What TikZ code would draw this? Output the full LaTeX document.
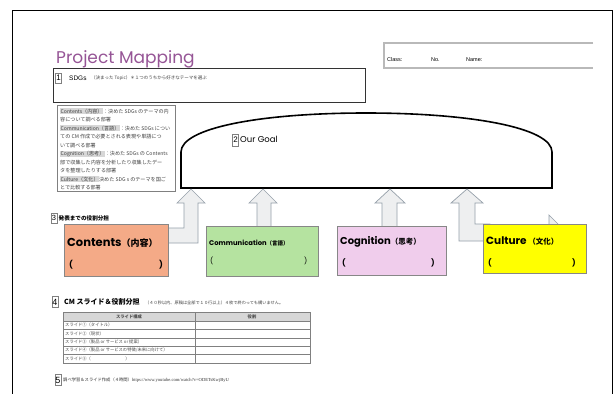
\documentclass[tikz,border=0pt]{standalone}
\usepackage{fontspec}
\setmainfont{Liberation Serif}
\newfontfamily\jp{Noto Sans CJK JP}
\newfontfamily\pop{Poppins}
\newfontfamily\lsans{Liberation Sans}
\definecolor{salmon}{RGB}{244,170,135}
\definecolor{lgreen}{RGB}{181,227,160}
\definecolor{lpink}{RGB}{240,205,236}
\definecolor{lyellow}{RGB}{255,255,0}
\definecolor{boxgray}{RGB}{135,135,135}
\definecolor{arrfill}{RGB}{238,239,240}
\definecolor{arrline}{RGB}{150,160,170}
\definecolor{titlecol}{RGB}{150,85,150}
\definecolor{hl}{RGB}{215,215,215}
\tikzset{
  catbox/.style={draw=boxgray, line width=0.8pt, anchor=north west, inner sep=0pt},
  arrowsty/.style={draw=arrline, fill=arrfill, line width=0.7pt, line join=miter},
  numbox/.style={draw=gray, line width=0.4pt, fill=white, inner xsep=0.6pt, inner ysep=0.8pt, minimum height=10pt, minimum width=5.5pt, font=\lsans\fontsize{8}{8}\selectfont},
  desc/.style={anchor=base west, inner sep=0pt, font=\jp\fontsize{5.1}{6}\selectfont, text=black!75},
  hlbox/.style={fill=hl, inner xsep=0.3pt, inner ysep=0.6pt},
  rowtxt/.style={anchor=west, inner sep=0pt, font=\jp\fontsize{4.3}{5}\selectfont, text=black!70},
}
\begin{document}
\begin{tikzpicture}[x=1pt,y=-1pt]
\useasboundingbox (0,0) rectangle (614,394);
\fill[white] (0,0) rectangle (614,394);
% page border
\draw[line width=0.9pt] (12,394) -- (12,10) -- (612,10) -- (612,394);
% class box
\draw[gray!55, line width=1.2pt] (593,43) -- (384,43) -- (384,68) -- (593,68);
\node[anchor=west, inner sep=0pt, font=\lsans\fontsize{5.5}{6}\selectfont] (cls) at (387,60) {Class:};
\node[anchor=west, inner sep=0pt, font=\lsans\fontsize{5.5}{6}\selectfont] (no) at (431,60) {No.};
\node[anchor=west, inner sep=0pt, font=\lsans\fontsize{5.5}{6}\selectfont] (nm) at (466,60) {Name:};
% title
\node[anchor=base west, inner sep=0pt, text=titlecol, font=\pop\fontsize{17}{20}\selectfont] (title) at (56,63) {Project Mapping};
% section 1
\draw[black!80, line width=1pt] (53,68) rectangle (365,102);
\node[numbox] (n1) at (58.5,78) {1};
\node[anchor=west, inner sep=0pt, font=\lsans\fontsize{6.5}{7}\selectfont] (sdgs) at (69,78) {SDGs};
\node[anchor=west, inner sep=0pt, font=\jp\fontsize{4.5}{5}\selectfont, text=black!75] (sdgsnote) at (91,78) {（決まった Topic）＊１つのうちから好きなテーマを選ぶ};
% description box
\draw[gray, line width=0.8pt] (57,105) rectangle (175,191);
\node[desc] (d1) at (60,113) {\tikz[baseline=(h.base)]\node[hlbox,inner sep=0.5pt](h){Contents（内容）};：決めた SDGs のテーマの内};
\node[desc] (d2) at (60,121.5) {容について調べる部署};
\node[desc] (d3) at (60,130) {\tikz[baseline=(h.base)]\node[hlbox,inner sep=0.5pt](h){Communication（言語）};：決めた SDGs につい};
\node[desc] (d4) at (60,138.5) {ての CM 作成で必要とされる表現や単語につ};
\node[desc] (d5) at (60,147) {いて調べる部署};
\node[desc] (d6) at (60,155.5) {\tikz[baseline=(h.base)]\node[hlbox,inner sep=0.5pt](h){Cognition（思考）};：決めた SDGs の Contents};
\node[desc] (d7) at (60,164) {部で収集した内容を分析したり収集したデー};
\node[desc] (d8) at (60,172.5) {タを整理したりする部署};
\node[desc] (d9) at (60,181) {\tikz[baseline=(h.base)]\node[hlbox,inner sep=0.5pt](h){Culture（文化）};決めた SDG s のテーマを国ご};
\node[desc] (d10) at (60,189.5) {とで比較する部署};
% goal shape
\draw[line width=1.6pt, fill=white] (181,188) -- (181,152) .. controls (181,128) and (260,113) .. (366,113) .. controls (472,113) and (552,128) .. (552,152) -- (552,188) -- cycle;
\node[numbox, minimum height=12pt] (n2) at (235.5,140) {2};
\node[anchor=west, inner sep=0pt, font=\pop\fontsize{8.5}{9}\selectfont] (goal) at (240,139) {Our Goal};
% arrows
\draw[arrowsty] (160,228) -- (184,228) -- (184,203) -- (177,203) -- (191,189) -- (205,203) -- (198,203) -- (198,243) -- (160,243) -- cycle;
\draw[arrowsty] (257,230) -- (257,203) -- (249,203) -- (263,189) -- (277,203) -- (271,203) -- (271,230) -- cycle;
\draw[arrowsty] (382,230) -- (382,203) -- (375,203) -- (390,189) -- (405,203) -- (397,203) -- (397,230) -- cycle;
\draw[arrowsty] (459,203) -- (451,203) -- (467,189) -- (483,203) -- (475,203) -- (475,224) -- (490,224) -- (490,241) -- (459,241) -- cycle;
\draw[arrowsty] (549,226) -- (549,215) -- (559,225);
% section 3
\node[numbox, font=\lsans\fontsize{7.5}{8}\selectfont] (n3) at (54,218) {3};
\node[anchor=west, inner sep=0pt, font=\jp\bfseries\fontsize{5.6}{6}\selectfont] (s3) at (58.5,218) {発表までの役割分担};
% category boxes
\node[catbox, fill=salmon, minimum width=104pt, minimum height=52pt] (contents) at (64,224) {};
\node[anchor=base west, inner sep=0pt, font=\pop\bfseries\fontsize{11.5}{12}\selectfont] (contl) at (67,246) {Contents{\jp\fontsize{9}{10}\selectfont （内容）}};
\node[anchor=base west, inner sep=0pt, font=\pop\bfseries\fontsize{8}{9}\selectfont] (contp1) at (69,267) {(};
\node[anchor=base west, inner sep=0pt, font=\pop\bfseries\fontsize{8}{9}\selectfont] (contp2) at (159,267) {)};

\node[catbox, fill=lgreen, minimum width=112pt, minimum height=50pt] (comm) at (206,226) {};
\node[anchor=base west, inner sep=0pt, font=\pop\bfseries\fontsize{6.8}{8}\selectfont] (comml) at (209,245) {Communication{\jp\fontsize{5.5}{6}\selectfont （言語）}};
\node[anchor=base west, inner sep=0pt, font=\pop\fontsize{7}{8}\selectfont] (commp1) at (210,263) {(};
\node[anchor=base west, inner sep=0pt, font=\pop\fontsize{7}{8}\selectfont] (commp2) at (304,263) {)};

\node[catbox, fill=lpink, minimum width=109pt, minimum height=49pt] (cogn) at (337,226) {};
\node[anchor=base west, inner sep=0pt, font=\pop\bfseries\fontsize{10}{12}\selectfont] (cognl) at (340,244) {Cognition{\jp\bfseries\fontsize{7.5}{8}\selectfont （思考）}};
\node[anchor=base west, inner sep=0pt, font=\pop\bfseries\fontsize{7.5}{8}\selectfont] (cognp1) at (342,265) {(};
\node[anchor=base west, inner sep=0pt, font=\pop\bfseries\fontsize{7.5}{8}\selectfont] (cognp2) at (431,265) {)};

\node[catbox, fill=lyellow, minimum width=103pt, minimum height=49pt] (cult) at (483,224) {};
\node[anchor=base west, inner sep=0pt, font=\pop\bfseries\fontsize{10.5}{12}\selectfont] (cultl) at (486,244) {Culture{\jp\bfseries\fontsize{7.5}{8}\selectfont \ （文化）}};
\node[anchor=base west, inner sep=0pt, font=\pop\bfseries\fontsize{7.5}{8}\selectfont] (cultp1) at (488,265) {(};
\node[anchor=base west, inner sep=0pt, font=\pop\bfseries\fontsize{7.5}{8}\selectfont] (cultp2) at (572,265) {)};
% section 4
\node[numbox, minimum height=11pt, font=\lsans\fontsize{9}{9}\selectfont] (n4) at (55,302) {4};
\node[anchor=west, inner sep=0pt, font=\jp\bfseries\fontsize{7}{8}\selectfont] (s4) at (64,302) {CM スライド＆役割分担};
\node[anchor=west, inner sep=0pt, font=\jp\fontsize{4.2}{5}\selectfont, text=black!75] (s4n) at (145,302.5) {（４０秒以内、原稿は全部で１０行以上）４枚で終わっても構いません。};
% table
\fill[hl] (63,312) rectangle (310,321);
\draw[gray, line width=0.5pt] (63,321) -- (310,321)
  (63,329.4) -- (310,329.4) (63,337.8) -- (310,337.8)
  (63,346.2) -- (310,346.2) (63,354.6) -- (310,354.6)
  (195,312) -- (195,363);
\draw[gray, line width=0.9pt] (63,312) rectangle (310,363);
\node[font=\jp\bfseries\fontsize{4.3}{5}\selectfont, inner sep=0pt, text=black!70] (th1) at (129,316.5) {スライド構成};
\node[font=\jp\bfseries\fontsize{4.3}{5}\selectfont, inner sep=0pt, text=black!70] (th2) at (252,316.5) {役割};
\node[rowtxt] (r1) at (65,325.2) {スライド①（タイトル）};
\node[rowtxt] (r2) at (65,333.6) {スライド②（現状）};
\node[rowtxt] (r3) at (65,342) {スライド③（製品 or サービス or 提案）};
\node[rowtxt] (r4) at (65,350.4) {スライド④（製品 or サービスの特徴/未来に向けて）};
\node[rowtxt] (r5) at (65,358.8) {スライド⑤（　　　　　　　　）};
% section 5
\node[numbox, minimum height=11pt, font=\lsans\fontsize{9}{9}\selectfont] (n5) at (58,380) {5};
\node[anchor=west, inner sep=0pt, font=\jp\fontsize{4.3}{5}\selectfont, text=black!80] (s5) at (63,380) {調べ学習＆スライド作成（４時間）{\rmfamily\fontsize{4.6}{5}\selectfont https://www.youtube.com/watch?v=ODETsKwjByU}};
\end{tikzpicture}
\end{document}
